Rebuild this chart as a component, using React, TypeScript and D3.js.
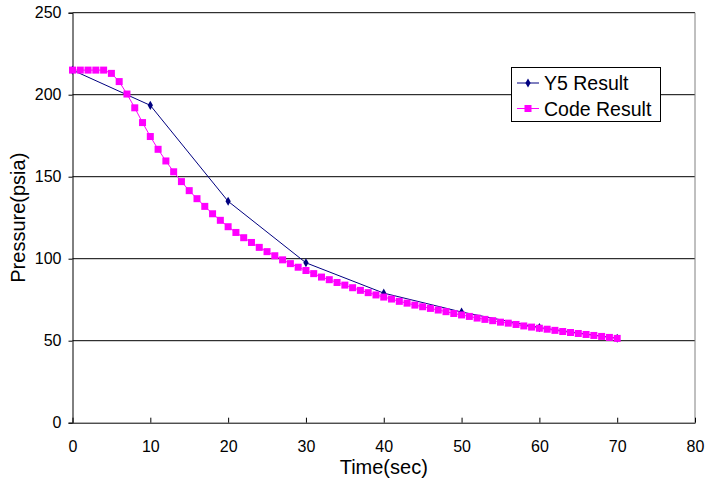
import React, { useEffect, useRef } from 'react';
import * as d3 from 'd3';

// Y5 Result: one point every 10 s
const y5Times = [0, 10, 20, 30, 40, 50, 60, 70];
const y5Pressure = [215, 193.5, 135, 97.5, 79, 67.5, 58, 51.5];

// Code Result: one point every second, 0..70 s
const codeTimes = d3.range(0, 71);
const codePressure = [
  215, 215, 215, 215, 215, 213, 208, 200.4, 192, 183,
  174.5, 166.7, 159.6, 153, 147, 141.5, 136.6, 131.9, 127.4, 123.4,
  119.5, 116, 112.8, 109.9, 106.9, 104.3, 101.8, 99.3, 97, 94.8,
  92.8, 90.9, 88.8, 87.2, 85.5, 83.9, 82.3, 80.7, 79.3, 77.9,
  76.6, 75.4, 74, 72.9, 71.7, 70.7, 69.7, 68.7, 67.7, 66.6,
  65.7, 64.8, 63.8, 63, 62.2, 61.3, 60.7, 59.9, 59, 58.3,
  57.6, 57, 56.3, 55.6, 55, 54.4, 53.8, 53.2, 52.6, 52,
  51.4,
];

const xTicks = [0, 10, 20, 30, 40, 50, 60, 70, 80];
const yTicks = [0, 50, 100, 150, 200, 250];
const seriesNames = ['Y5 Result', 'Code Result'];

const font = '"Liberation Sans", Arial, sans-serif';
const navy = '#000080';
const magenta = '#FF00FF';

const App = () => {
  const width = 725,
    height = 485,
    margin = { left: 72.5, top: 12.7, right: 30, bottom: 62.3 };

  const svgRef = useRef(null);

  useEffect(() => {
    const svg = d3.select(svgRef.current);
    svg.selectAll('*').remove();

    const x = d3.scaleLinear().domain([0, 80]).range([margin.left, width - margin.right]);
    const y = d3.scaleLinear().domain([0, 250]).range([height - margin.bottom, margin.top]);

    // grid lines (250 line doubles as the top of the box)
    svg.append('g')
      .attr('stroke', '#000')
      .attr('stroke-width', 1)
      .selectAll('line')
      .data(yTicks.filter(d => d > 0))
      .join('line')
      .attr('x1', x(0))
      .attr('x2', x(80))
      .attr('y1', d => y(d))
      .attr('y2', d => y(d));

    // right border
    svg.append('line')
      .attr('x1', x(80)).attr('x2', x(80))
      .attr('y1', y(250)).attr('y2', y(0))
      .attr('stroke', '#808080');

    // y axis
    svg.append('g')
      .attr('transform', `translate(${x(0)},0)`)
      .call(d3.axisLeft(y).tickValues(yTicks).tickSize(4).tickPadding(7).tickFormat(d3.format('d')))
      .call(g => g.selectAll('text').attr('font-size', 16).attr('font-family', font).attr('fill', '#000'))
      .call(g => g.selectAll('line, path').attr('stroke', '#000'));

    // x axis, ticks pointing inward
    svg.append('g')
      .attr('transform', `translate(0,${y(0)})`)
      .call(d3.axisBottom(x).tickValues(xTicks).tickSizeInner(-5).tickSizeOuter(0).tickPadding(18).tickFormat(d3.format('d')))
      .call(g => g.selectAll('text').attr('font-size', 16).attr('font-family', font).attr('fill', '#000'))
      .call(g => g.selectAll('line, path').attr('stroke', '#000'));

    // axis titles
    svg.append('text')
      .attr('x', (x(0) + x(80)) / 2)
      .attr('y', 474)
      .attr('text-anchor', 'middle')
      .attr('font-family', font)
      .attr('font-size', 20)
      .text('Time(sec)');

    svg.append('text')
      .attr('transform', `translate(25,${(y(0) + y(250)) / 2}) rotate(-90)`)
      .attr('text-anchor', 'middle')
      .attr('font-family', font)
      .attr('font-size', 20)
      .text('Pressure(psia)');

    const line = d3.line<number>().x(d => x(d[0])).y(d => y(d[1]));
    const diamond = d3.symbol().type(d3.symbolDiamond).size(24);

    // Y5 series
    const y5 = y5Times.map((t, i) => [t, y5Pressure[i]]);
    svg.append('path')
      .datum(y5)
      .attr('fill', 'none')
      .attr('stroke', navy)
      .attr('stroke-width', 1)
      .attr('d', line);
    svg.append('g')
      .attr('fill', navy)
      .selectAll('path')
      .data(y5)
      .join('path')
      .attr('transform', d => `translate(${x(d[0])},${y(d[1])})`)
      .attr('d', diamond);

    // Code series
    const code = codeTimes.map((t, i) => [t, codePressure[i]]);
    svg.append('path')
      .datum(code)
      .attr('fill', 'none')
      .attr('stroke', magenta)
      .attr('stroke-width', 1)
      .attr('d', line);
    svg.append('g')
      .attr('fill', magenta)
      .selectAll('rect')
      .data(code)
      .join('rect')
      .attr('x', d => x(d[0]) - 3.5)
      .attr('y', d => y(d[1]) - 3.5)
      .attr('width', 7)
      .attr('height', 7);

    // legend
    const lg = svg.append('g').attr('transform', 'translate(511,67)');
    lg.append('rect')
      .attr('x', 0.5).attr('y', 0.5)
      .attr('width', 149).attr('height', 54)
      .attr('fill', '#fff')
      .attr('stroke', '#000');
    const colors = [navy, magenta];
    seriesNames.forEach((name, i) => {
      const cy = 16 + i * 25.5;
      lg.append('line')
        .attr('x1', 6).attr('x2', 28)
        .attr('y1', cy).attr('y2', cy)
        .attr('stroke', colors[i]);
      if (i === 0) {
        lg.append('path')
          .attr('transform', `translate(17,${cy})`)
          .attr('fill', navy)
          .attr('d', diamond);
      } else {
        lg.append('rect')
          .attr('x', 13.5).attr('y', cy - 3.5)
          .attr('width', 7).attr('height', 7)
          .attr('fill', magenta);
      }
      lg.append('text')
        .attr('x', 33)
        .attr('y', cy)
        .attr('dy', '0.36em')
        .attr('font-family', font)
        .attr('font-size', 19.5)
        .text(name);
    });
  }, []);

  return (
    <svg
      ref={svgRef}
      width={width}
      height={height}
      style={{ position: 'absolute', left: 0, top: 0, background: '#fff' }}
    ></svg>
  );
};

export default App;
